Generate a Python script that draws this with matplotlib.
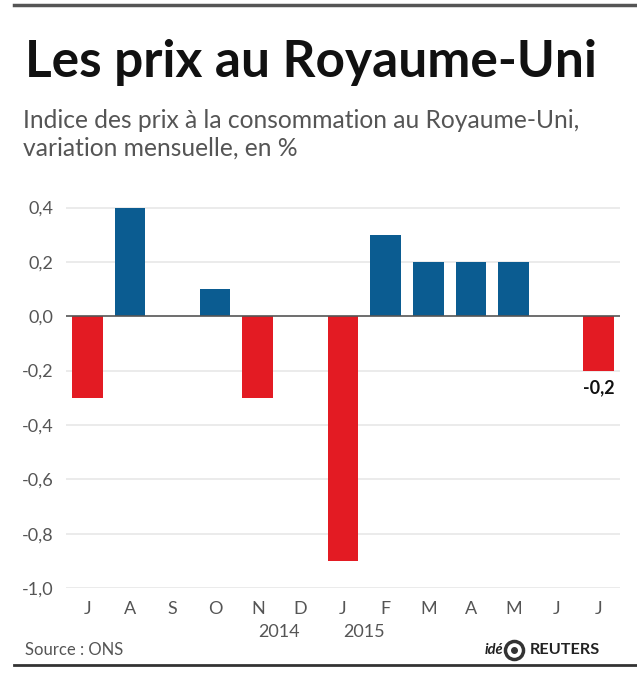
import matplotlib
matplotlib.use("Agg")
import matplotlib.pyplot as plt
import matplotlib.transforms as mtrans
from matplotlib import font_manager

months = ["J", "A", "S", "O", "N", "D", "J", "F", "M", "A", "M", "J", "J"]
values = [-0.3, 0.4, 0.0, 0.1, -0.3, 0.0, -0.9, 0.3, 0.2, 0.2, 0.2, 0.0, -0.2]
yticks = [0.4, 0.2, 0.0, -0.2, -0.4, -0.6, -0.8, -1.0]
ytick_labels = ["0,4", "0,2", "0,0", "-0,2", "-0,4", "-0,6", "-0,8", "-1,0"]
years = ["2014", "2015"]
year_pos = [4.5, 6.5]
last_label = "-0,2"

title = "Les prix au Royaume-Uni"
subtitle_1 = "Indice des prix à la consommation au Royaume-Uni,"
subtitle_2 = "variation mensuelle, en %"
source = "Source : ONS"

names = {f.name for f in font_manager.fontManager.ttflist}
main = "Lato" if "Lato" in names else "DejaVu Sans"
fam = [main, "DejaVu Sans"]

RED = "#e31b23"
BLUE = "#0b5c91"
GREY = "#555555"

fig = plt.figure(figsize=(6.37, 6.75), dpi=100)
ax = fig.add_axes([66/637, 87/675, 554/637, (588-194)/675])

x = list(range(len(months)))
colors = [RED if v < 0 else BLUE for v in values]
ax.bar(x, values, width=0.72, color=colors, zorder=3)
ax.set_xlim(-0.5, len(months) - 0.5)
ax.set_ylim(-1.0, 0.45)

for t in yticks:
    if t == 0:
        continue
    ax.axhline(t, color="#e8e8e8", lw=1.2, zorder=1)
ax.axhline(0, color="#555555", lw=1.2, zorder=4)

ax.set_yticks(yticks)
ax.set_yticklabels(ytick_labels, fontsize=13, color=GREY, family=fam)
ax.set_xticks(x)
ax.set_xticklabels(months, fontsize=13, color=GREY, family=fam)
ax.tick_params(length=0, pad=9)
for s in ax.spines.values():
    s.set_visible(False)

trans = mtrans.blended_transform_factory(ax.transData, fig.transFigure)
for yp, yl in zip(year_pos, years):
    ax.text(yp, (675-632)/675, yl, transform=trans, ha="center", va="center",
            fontsize=13, color=GREY, family=fam)

ax.annotate(last_label, xy=(x[-1], values[-1]), xytext=(0, -6),
            textcoords="offset points", ha="center", va="top",
            fontsize=13, fontweight="bold", color="#111111", family=fam)

renderer = fig.canvas.get_renderer()

def fit(txt, width_px):
    w = txt.get_window_extent(renderer).width
    txt.set_fontsize(txt.get_fontsize() * width_px / w)

t_title = fig.text(25/637, 1 - 62/675, title, fontsize=35, fontweight="bold",
                   family=fam, va="center", ha="left", color="#111111")
fit(t_title, 573)
t_s1 = fig.text(23/637, 1 - 120/675, subtitle_1, fontsize=15, family=fam,
                va="center", ha="left", color=GREY)
fit(t_s1, 557)
fig.text(23/637, 1 - 148/675, subtitle_2, fontsize=t_s1.get_fontsize(), family=fam,
         va="center", ha="left", color=GREY)
fig.text(25/637, 1 - 650/675, source, fontsize=12, family=fam,
         va="center", ha="left", color=GREY)
fig.text(485/637, 1 - 650/675, "idé", fontsize=10.5, family=fam, style="italic",
         fontweight="bold", va="center", ha="left", color="#222222")
# logo circle
fig.add_artist(plt.Line2D([514/637], [1 - 650/675], marker="o", markersize=13,
                          markerfacecolor="white", markeredgecolor="#333333",
                          markeredgewidth=2.5, linestyle="none"))
fig.add_artist(plt.Line2D([514/637], [1 - 650/675], marker="o", markersize=4,
                          color="#333333", linestyle="none"))
t_r = fig.text(600/637, 1 - 650/675, "REUTERS", fontsize=11, family=fam,
               fontweight="bold", va="center", ha="right", color="#222222")
fit(t_r, 70)

fig.add_artist(plt.Line2D([14/637, 1], [1 - 5/675, 1 - 5/675], color="#555555", lw=2.5))
fig.add_artist(plt.Line2D([14/637, 1], [1 - 665/675, 1 - 665/675], color="#333333", lw=2))

fig.savefig("out.png", dpi=100)
